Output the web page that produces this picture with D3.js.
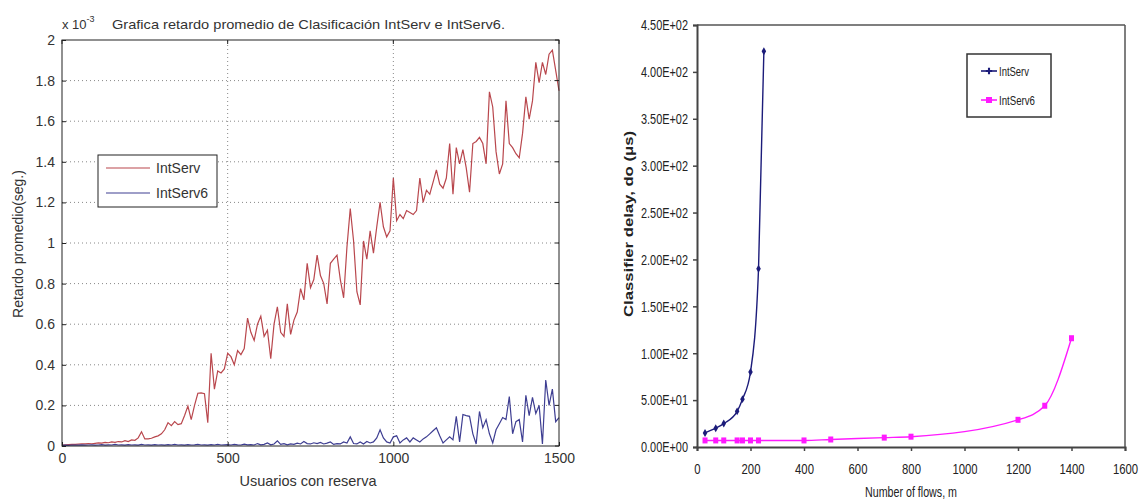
<!DOCTYPE html>
<html><head><meta charset="utf-8">
<script src="https://cdn.jsdelivr.net/npm/d3@7"></script>
<style>
body{margin:0;background:#fff;}
svg{display:block;}
.lt{font-family:"Liberation Sans",Arial,sans-serif;fill:#333;}
.rt{font-family:"Liberation Sans",Arial,sans-serif;fill:#222;}
</style>
</head><body>
<svg id="c" width="1147" height="504"></svg>
<script>
// ---------- Left panel data (values x 10^-3) ----------
const usersL = d3.range(0, 1501, 10);
const intServL = [0.005,0.006,0.007,0.008,0.008,0.009,0.010,0.010,0.012,0.011,
0.013,0.015,0.014,0.018,0.016,0.020,0.018,0.022,0.020,0.026,
0.022,0.030,0.028,0.040,0.070,0.035,0.035,0.038,0.045,0.050,
0.060,0.080,0.115,0.100,0.120,0.105,0.110,0.150,0.197,0.130,
0.200,0.260,0.262,0.258,0.115,0.457,0.280,0.370,0.360,0.380,
0.457,0.440,0.400,0.470,0.450,0.480,0.630,0.560,0.520,0.600,
0.640,0.540,0.570,0.430,0.600,0.686,0.560,0.540,0.700,0.550,
0.620,0.660,0.775,0.720,0.900,0.780,0.820,0.940,0.840,0.800,
0.700,0.900,0.920,0.940,0.820,0.730,0.980,1.170,1.010,0.760,
0.695,1.010,0.920,1.060,0.950,1.080,1.200,1.080,1.030,1.060,
1.320,1.110,1.140,1.120,1.160,1.150,1.140,1.160,1.320,1.200,
1.260,1.240,1.300,1.360,1.290,1.270,1.320,1.490,1.240,1.470,
1.390,1.460,1.370,1.250,1.490,1.500,1.520,1.490,1.390,1.745,
1.670,1.450,1.340,1.390,1.700,1.490,1.470,1.440,1.420,1.540,
1.720,1.610,1.700,1.890,1.790,1.890,1.830,1.930,1.950,1.850,
1.750];
const intServ6L = [0.003,0.004,0.003,0.005,0.004,0.004,0.006,0.004,0.005,0.006,
0.004,0.005,0.007,0.004,0.006,0.005,0.008,0.005,0.006,0.004,
0.007,0.005,0.006,0.004,0.008,0.005,0.006,0.004,0.007,0.005,
0.006,0.004,0.007,0.005,0.008,0.005,0.006,0.004,0.007,0.005,
0.006,0.008,0.005,0.006,0.004,0.007,0.005,0.008,0.005,0.006,
0.007,0.005,0.008,0.006,0.005,0.009,0.006,0.007,0.005,0.012,
0.006,0.008,0.015,0.006,0.010,0.025,0.008,0.012,0.006,0.010,
0.008,0.014,0.010,0.022,0.012,0.010,0.016,0.012,0.018,0.010,
0.014,0.020,0.008,0.012,0.010,0.020,0.015,0.045,0.012,0.010,
0.020,0.010,0.022,0.015,0.020,0.040,0.080,0.040,0.020,0.015,
0.045,0.050,0.015,0.030,0.040,0.020,0.040,0.030,0.020,0.035,
0.045,0.060,0.075,0.090,0.050,0.015,0.030,0.045,0.030,0.146,
0.020,0.155,0.150,0.146,0.060,0.010,0.170,0.090,0.130,0.060,
0.015,0.080,0.110,0.140,0.130,0.243,0.060,0.120,0.130,0.020,
0.250,0.150,0.240,0.160,0.200,0.010,0.325,0.200,0.280,0.120,
0.140];
const yTicksL = [0,0.2,0.4,0.6,0.8,1,1.2,1.4,1.6,1.8,2];
const yTickLabelsL = ["0","0.2","0.4","0.6","0.8","1","1.2","1.4","1.6","1.8","2"];
const xTicksL = [0,500,1000,1500];
const seriesNamesL = ["IntServ","IntServ6"];

// ---------- Right panel data ----------
const flowsA = [30,70,100,150,170,200,230,250];
const intServR = [15,20,25,38,51,80,190,422];
const flowsB = [30,70,100,150,170,200,230,400,500,700,800,1200,1300,1400];
const intServ6R = [7,7,7,7,7,7,7,7,8,10,11,29,44,116];
const yTicksR = [0,50,100,150,200,250,300,350,400,450];
const yTickLabelsR = ["0.00E+00","5.00E+01","1.00E+02","1.50E+02","2.00E+02","2.50E+02","3.00E+02","3.50E+02","4.00E+02","4.50E+02"];
const xTicksR = [0,200,400,600,800,1000,1200,1400,1600];
const seriesNamesR = ["IntServ","IntServ6"];

const svg = d3.select("#c");
function fit(sel, w){
  sel.each(function(){
    const v = typeof w === "function" ? w(this) : w;
    this.setAttribute("textLength", v);
    this.setAttribute("lengthAdjust","spacingAndGlyphs");
  });
}

// ================= LEFT PANEL =================
const xL = d3.scaleLinear().domain([0,1500]).range([62,559]);
const yL = d3.scaleLinear().domain([0,2]).range([446,40]);
const redC = "#b9474d", blueC = "#3e3e92";

const gL = svg.append("g");
gL.append("g").selectAll("line").data(yTicksL.slice(1,-1)).join("line")
  .attr("x1",xL(0)).attr("x2",xL(1500)).attr("y1",d=>yL(d)).attr("y2",d=>yL(d))
  .attr("stroke","#888").attr("stroke-dasharray","1,3");
gL.append("g").selectAll("line").data(xTicksL.slice(1,-1)).join("line")
  .attr("y1",yL(0)).attr("y2",yL(2)).attr("x1",d=>xL(d)).attr("x2",d=>xL(d))
  .attr("stroke","#888").attr("stroke-dasharray","1,3");

const lineL = d3.line().x((d,i)=>xL(usersL[i])).y(d=>yL(d));
gL.append("path").datum(intServL).attr("d",lineL).attr("fill","none").attr("stroke",redC).attr("stroke-width",1.2);
gL.append("path").datum(intServ6L).attr("d",lineL).attr("fill","none").attr("stroke",blueC).attr("stroke-width",1.2);

gL.append("rect").attr("x",xL(0)).attr("y",yL(2)).attr("width",xL(1500)-xL(0)).attr("height",yL(0)-yL(2))
  .attr("fill","none").attr("stroke","#222").attr("stroke-width",1);

const axYL = gL.append("g").attr("transform",`translate(${xL(0)},0)`)
  .call(d3.axisLeft(yL).tickValues(yTicksL).tickFormat((d,i)=>yTickLabelsL[i]).tickSize(-4).tickPadding(7));
const axXL = gL.append("g").attr("transform",`translate(0,${yL(0)})`)
  .call(d3.axisBottom(xL).tickValues(xTicksL).tickFormat(d3.format("d")).tickSize(-4).tickPadding(7));
[axYL,axXL].forEach(a=>{
  a.select(".domain").remove();
  a.selectAll(".tick line").attr("stroke","#222");
  a.selectAll("text").attr("class","lt").style("font-size","14px").attr("fill","#333");
});
gL.append("g").selectAll("line").data(yTicksL).join("line")
  .attr("x1",xL(1500)).attr("x2",xL(1500)-4).attr("y1",d=>yL(d)).attr("y2",d=>yL(d)).attr("stroke","#222");
gL.append("g").selectAll("line").data(xTicksL).join("line")
  .attr("y1",yL(2)).attr("y2",yL(2)+4).attr("x1",d=>xL(d)).attr("x2",d=>xL(d)).attr("stroke","#222");

gL.append("text").attr("class","lt").attr("x",62).attr("y",29).style("font-size","13px")
  .html('x 10<tspan dy="-7" font-size="9">-3</tspan>');
gL.append("text").attr("class","lt").attr("x",112).attr("y",29).style("font-size","13px")
  .attr("textLength",393).attr("lengthAdjust","spacingAndGlyphs")
  .text("Grafica retardo promedio de Clasificación IntServ e IntServ6.");
gL.append("text").attr("class","lt").attr("x",308).attr("y",486).attr("text-anchor","middle").style("font-size","14.5px")
  .text("Usuarios con reserva");
gL.append("text").attr("class","lt").attr("transform","translate(23,244) rotate(-90)").attr("text-anchor","middle").style("font-size","14px")
  .text("Retardo promedio(seg.)");

const lgL = gL.append("g");
lgL.append("rect").attr("x",98).attr("y",155).attr("width",119).attr("height",52).attr("fill","#fff").attr("stroke","#222");
[[redC,168],[blueC,193]].forEach((c,i)=>{
  lgL.append("line").attr("x1",106).attr("x2",150).attr("y1",c[1]).attr("y2",c[1]).attr("stroke",c[0]).attr("stroke-width",1.2);
  lgL.append("text").attr("class","lt").attr("x",156).attr("y",c[1]+5).style("font-size","14px").text(seriesNamesL[i]);
});

// ================= RIGHT PANEL =================
const xR = d3.scaleLinear().domain([0,1600]).range([697,1125]);
const yR = d3.scaleLinear().domain([0,450]).range([447,25]);
const navy = "#1c1c7a", mag = "#ff1aff";
const gR = svg.append("g");

gR.append("line").attr("x1",xR(0)).attr("x2",xR(1600)).attr("y1",yR(450)).attr("y2",yR(450)).attr("stroke","#555").attr("stroke-width",1.5);
gR.append("line").attr("x1",xR(1600)).attr("x2",xR(1600)).attr("y1",yR(450)).attr("y2",yR(0)).attr("stroke","#555").attr("stroke-width",1.5);

const axYR = gR.append("g").attr("transform",`translate(${xR(0)},0)`)
  .call(d3.axisLeft(yR).tickValues(yTicksR).tickFormat((d,i)=>yTickLabelsR[i]).tickSize(4).tickPadding(5));
const axXR = gR.append("g").attr("transform",`translate(0,${yR(0)})`)
  .call(d3.axisBottom(xR).tickValues(xTicksR).tickFormat(d3.format("d")).tickSize(4).tickPadding(12));
[axYR,axXR].forEach(a=>{
  a.select(".domain").attr("stroke","#444").attr("stroke-width",2);
  a.selectAll(".tick line").attr("stroke","#444").attr("stroke-width",1.5);
  a.selectAll("text").attr("class","rt").style("font-size","15px").attr("fill","#222");
});
fit(axYR.selectAll("text"), 47);
fit(axXR.selectAll("text"), el => (el.textContent.length*6.3).toFixed(1));

const lineA = d3.line().x((d,i)=>xR(flowsA[i])).y(d=>yR(d)).curve(d3.curveMonotoneX);
const lineB = d3.line().x((d,i)=>xR(flowsB[i])).y(d=>yR(d)).curve(d3.curveMonotoneX);
gR.append("path").datum(intServ6R).attr("d",lineB).attr("fill","none").attr("stroke",mag).attr("stroke-width",1.4);
gR.append("g").selectAll("rect").data(intServ6R).join("rect")
  .attr("x",(d,i)=>xR(flowsB[i])-2.5).attr("y",d=>yR(d)-3).attr("width",5).attr("height",6).attr("fill",mag);
gR.append("path").datum(intServR).attr("d",lineA).attr("fill","none").attr("stroke",navy).attr("stroke-width",1.4);
gR.append("g").selectAll("path").data(intServR).join("path")
  .attr("transform",(d,i)=>`translate(${xR(flowsA[i])},${yR(d)})`)
  .attr("d",d3.symbol(d3.symbolDiamond,18)).attr("fill",navy);

gR.append("text").attr("class","rt").attr("x",911).attr("y",497).attr("text-anchor","middle").style("font-size","14px")
  .attr("textLength",92).attr("lengthAdjust","spacingAndGlyphs").text("Number of flows, m");
gR.append("text").attr("class","rt").attr("transform","translate(633,224) rotate(-90)").attr("text-anchor","middle")
  .style("font-size","12.5px").style("font-weight","bold")
  .attr("textLength",186).attr("lengthAdjust","spacingAndGlyphs").text("Classifier delay, do (μs)");

const lgR = gR.append("g");
lgR.append("rect").attr("x",967).attr("y",54).attr("width",84).attr("height",63).attr("fill","#fff").attr("stroke","#333").attr("stroke-width",1.5);
[[navy,71,30],[mag,100,36]].forEach((c,i)=>{
  lgR.append("line").attr("x1",981).attr("x2",997).attr("y1",c[1]).attr("y2",c[1]).attr("stroke",c[0]).attr("stroke-width",1.6);
  if(i===0) lgR.append("path").attr("transform",`translate(989,${c[1]})`).attr("d",d3.symbol(d3.symbolCross,22)).attr("fill",c[0]);
  else lgR.append("rect").attr("x",986).attr("y",c[1]-3).attr("width",6).attr("height",6).attr("fill",c[0]);
  const t = lgR.append("text").attr("class","rt").attr("x",999).attr("y",c[1]+5).style("font-size","13px").text(seriesNamesR[i]);
  fit(t, c[2]);
});
</script>
</body></html>
